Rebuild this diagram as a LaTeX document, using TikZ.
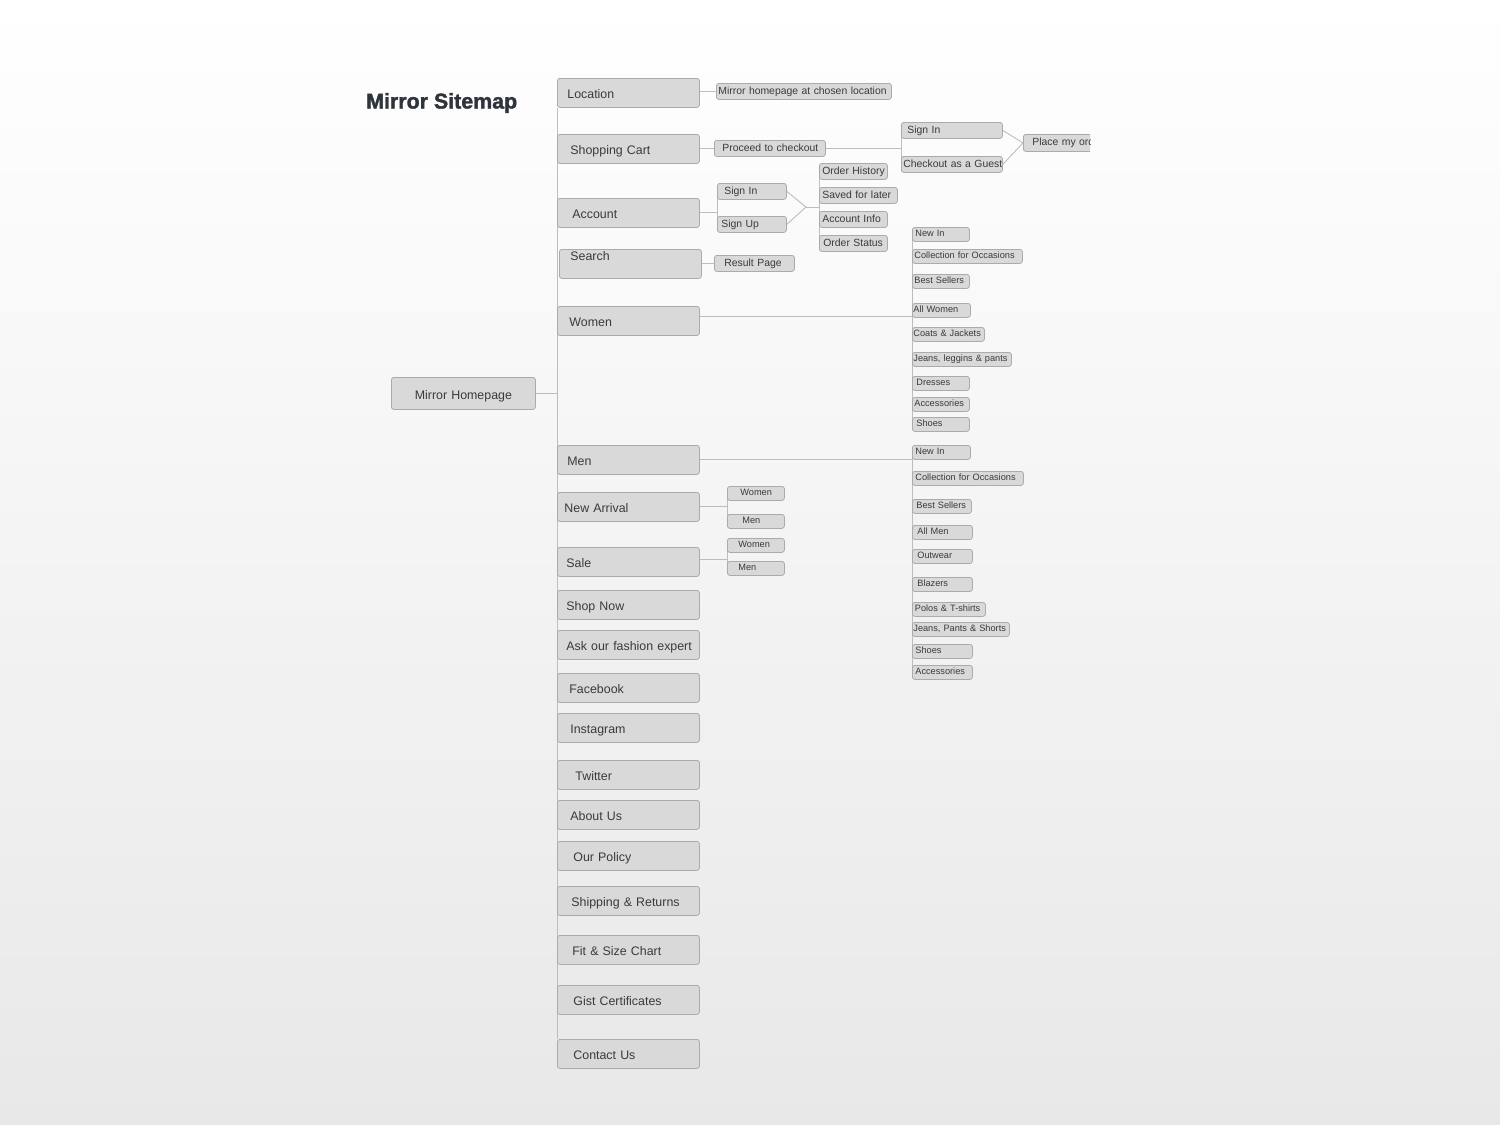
\documentclass[tikz,border=0pt]{standalone}
\usepackage{fontspec}
\setmainfont{Liberation Sans}
\newfontfamily\ttlfont[BoldFeatures={FakeBold=1.6}]{Liberation Sans}
\usetikzlibrary{calc}
\pgfdeclarelayer{back}
\pgfdeclarelayer{bg}
\pgfsetlayers{back,bg,main}
\definecolor{boxfill}{HTML}{D9D9D9}
\definecolor{boxline}{HTML}{ABABAB}
\definecolor{wirec}{HTML}{BDBDBD}
\definecolor{txt}{HTML}{3A3A3A}
\definecolor{ttl}{HTML}{2E343B}
\newcommand{\lbl}[2]{\hspace*{#1pt}\mbox{#2}}
\tikzset{
 anybox/.style={draw=boxline, fill=boxfill, line width=0.8pt, rounded corners=2.5pt, anchor=north west, inner xsep=0pt, inner ysep=0pt, align=left, text=txt},
 mbox/.style={anybox, font=\fontsize{12.4}{14}\selectfont, text width=142pt, minimum height=29pt, text height=12pt, text depth=0.5pt},
 sbox/.style={anybox, font=\fontsize{10.4}{12}\selectfont, minimum height=16pt, text height=7.5pt, text depth=2pt},
 rbox/.style={anybox, font=\fontsize{9.2}{11}\selectfont, minimum height=14pt, text height=6.7pt, text depth=1.8pt},
 wire/.style={draw=wirec, line width=0.9pt},
}
\begin{document}
\begin{tikzpicture}[x=1pt,y=-1pt]
\useasboundingbox (0,0) rectangle (1500,1125);
\begin{pgfonlayer}{back}
\shade[top color=white, bottom color=black!9] (0,0) rectangle (1500,1125);
\end{pgfonlayer}

\node[font=\ttlfont\fontsize{21.4}{24}\selectfont\bfseries, text=ttl, anchor=west, inner sep=0pt] (title) at (366,103) {Mirror Sitemap};

% root
\node[anybox, font=\fontsize{12.4}{14}\selectfont, text width=144pt, align=center, minimum height=32pt, text height=12pt, text depth=0.5pt] (hp) at (391,377) {Mirror Homepage};

% main column
\node[mbox] (loc) at (557,78) {\lbl{10}{Location}};
\node[mbox] (cart) at (557,134) {\lbl{13}{Shopping Cart}};
\node[mbox] (acc) at (557,198) {\lbl{15}{Account}};
\node[mbox, text height=9pt, text depth=15pt] (search) at (559,249) {\lbl{11}{Search}};
\node[mbox] (women) at (557,306) {\lbl{12}{Women}};
\node[mbox] (men) at (557,445) {\lbl{10}{Men}};
\node[mbox] (na) at (557,492) {\lbl{7}{New Arrival}};
\node[mbox] (sale) at (557,547) {\lbl{9}{Sale}};
\node[mbox] (shop) at (557,590) {\lbl{9}{Shop Now}};
\node[mbox] (ask) at (557,630) {\lbl{9}{Ask our fashion expert}};
\node[mbox] (fb) at (557,673) {\lbl{12}{Facebook}};
\node[mbox] (ig) at (557,713) {\lbl{13}{Instagram}};
\node[mbox] (tw) at (557,760) {\lbl{18}{Twitter}};
\node[mbox] (about) at (557,800) {\lbl{13}{About Us}};
\node[mbox] (policy) at (557,841) {\lbl{16}{Our Policy}};
\node[mbox] (ship) at (557,886) {\lbl{14}{Shipping \& Returns}};
\node[mbox] (fit) at (557,935) {\lbl{15}{Fit \& Size Chart}};
\node[mbox] (gist) at (557,985) {\lbl{16}{Gist Certificates}};
\node[mbox] (contact) at (557,1039) {\lbl{16}{Contact Us}};

% level 2
\node[sbox, text width=175pt] (home) at (716,83) {\lbl{2}{Mirror homepage at chosen location}};
\node[sbox, text width=111pt] (checkout) at (714,140) {\lbl{8}{Proceed to checkout}};
\node[sbox, text width=101pt] (ciIn) at (901,122) {\lbl{6}{Sign In}};
\node[sbox, text width=101pt] (guest) at (901,156) {\lbl{2}{Checkout as a Guest}};
\begin{scope}
\clip (0,0) rectangle (1090,1125);
\node[sbox, text width=90pt, minimum height=17pt] (place) at (1023,134) {\lbl{9}{Place my order}};
\end{scope}
\node[sbox, text width=69pt] (aIn) at (717,183) {\lbl{7}{Sign In}};
\node[sbox, text width=69pt] (aUp) at (717,216) {\lbl{4}{Sign Up}};
\node[sbox, text width=68pt] (oh) at (819,163) {\lbl{3}{Order History}};
\node[sbox, text width=78pt] (sfl) at (819,187) {\lbl{3}{Saved for later}};
\node[sbox, text width=68pt] (ai) at (819,211) {\lbl{3}{Account Info}};
\node[sbox, text width=68pt] (os) at (819,235) {\lbl{4}{Order Status}};
\node[sbox, text width=80pt] (rp) at (714,255) {\lbl{10}{Result Page}};

% women column
\node[rbox, text width=57pt] (wNew) at (912,227) {\lbl{3}{New In}};
\node[rbox, text width=110pt] (wColl) at (912,249) {\lbl{2}{Collection for Occasions}};
\node[rbox, text width=57pt] (wBest) at (912,274) {\lbl{2}{Best Sellers}};
\node[rbox, text width=58pt] (wAll) at (912,303) {\lbl{1}{All Women}};
\node[rbox, text width=72pt] (wCoats) at (912,327) {\lbl{1}{Coats \& Jackets}};
\node[rbox, text width=99pt] (wJeans) at (912,352) {\lbl{1}{Jeans, leggins \& pants}};
\node[rbox, text width=57pt] (wDress) at (912,376) {\lbl{4}{Dresses}};
\node[rbox, text width=57pt] (wAcc) at (912,397) {\lbl{2}{Accessories}};
\node[rbox, text width=57pt] (wShoes) at (912,417) {\lbl{4}{Shoes}};

% men column
\node[rbox, text width=58pt] (mNew) at (912,445) {\lbl{3}{New In}};
\node[rbox, text width=111pt] (mColl) at (912,471) {\lbl{3}{Collection for Occasions}};
\node[rbox, text width=59pt] (mBest) at (912,499) {\lbl{4}{Best Sellers}};
\node[rbox, text width=60pt] (mAll) at (912,525) {\lbl{5}{All Men}};
\node[rbox, text width=60pt] (mOut) at (912,549) {\lbl{5}{Outwear}};
\node[rbox, text width=60pt] (mBlaz) at (912,577) {\lbl{5}{Blazers}};
\node[rbox, text width=73pt] (mPolo) at (912,602) {\lbl{2.5}{Polos \& T-shirts}};
\node[rbox, text width=97pt] (mJeans) at (912,622) {\lbl{1}{Jeans, Pants \& Shorts}};
\node[rbox, text width=60pt] (mShoes) at (912,644) {\lbl{3}{Shoes}};
\node[rbox, text width=60pt] (mAcc) at (912,665) {\lbl{3}{Accessories}};

% new arrival / sale
\node[rbox, text width=57pt] (naW) at (727,486) {\lbl{13}{Women}};
\node[rbox, text width=57pt] (naM) at (727,514) {\lbl{15}{Men}};
\node[rbox, text width=57pt] (sW) at (727,538) {\lbl{11}{Women}};
\node[rbox, text width=57pt] (sM) at (727,561) {\lbl{11}{Men}};

\coordinate (afork) at (806,207);
\coordinate (wy) at ([yshift=4.5pt]women.east);

\begin{pgfonlayer}{bg}
\draw[wire] (loc.south west) -- (contact.north west);
\draw[wire] (hp.east) -- (hp.east -| loc.west);
\draw[wire] (home.west -| loc.east) -- (home.west);
\draw[wire] (checkout.west -| cart.east) -- (checkout.west);
\draw[wire] (checkout.east) -- (checkout.east -| ciIn.west);
\draw[wire] (ciIn.west) -- (guest.west);
\draw[wire] (ciIn.east) -- (place.west);
\draw[wire] (guest.east) -- (place.west);
\draw[wire] (acc.east) -- (acc.east -| aIn.west);
\draw[wire] (aIn.west) -- (aUp.west);
\draw[wire] (aIn.east) -- (afork) -- (aUp.east);
\draw[wire] (afork) -- (afork -| oh.west);
\draw[wire] (oh.west) -- (os.west);
\draw[wire] (rp.west -| search.east) -- (rp.west);
\draw[wire] (wy) -- (wy -| wAll.west);
\draw[wire] (wNew.west) -- (wShoes.west);
\draw[wire] (men.east) -- (men.east -| mNew.west);
\draw[wire] (mNew.west) -- (mAcc.west);
\draw[wire] (na.east) -- (na.east -| naW.west);
\draw[wire] (naW.west) -- (naM.west);
\draw[wire] ([yshift=2pt]sale.east) -- ([yshift=2pt]sale.east -| sW.west);
\draw[wire] (sW.west) -- (sM.west);
\end{pgfonlayer}
\end{tikzpicture}
\end{document}
